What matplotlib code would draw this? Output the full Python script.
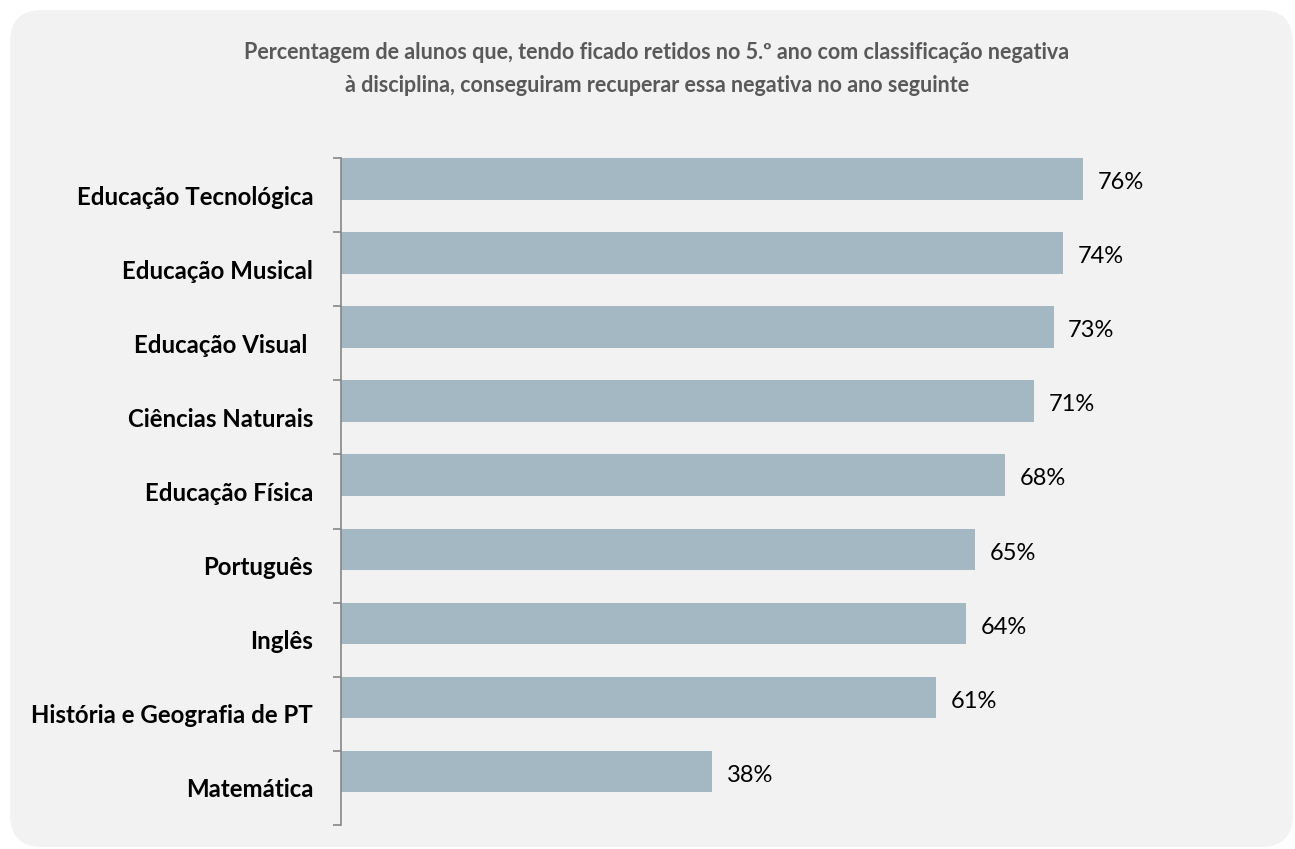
import matplotlib.pyplot as plt
from matplotlib.patches import FancyBboxPatch

categorias = ['Educação Tecnológica', 'Educação Musical', 'Educação Visual ',
              'Ciências Naturais', 'Educação Física', 'Português', 'Inglês',
              'História e Geografia de PT', 'Matemática']
valores = [76, 74, 73, 71, 68, 65, 64, 61, 38]

titulo = ('Percentagem de alunos que, tendo ficado retidos no 5.º ano com classificação negativa\n'
          'à disciplina, conseguiram recuperar essa negativa no ano seguinte')

plt.rcParams['font.family'] = ['Lato', 'DejaVu Sans']

W, H = 1295, 849
fig = plt.figure(figsize=(W / 100, H / 100), dpi=100)
fig.patch.set_facecolor('white')

# fundo cinzento com cantos arredondados
fundo = FancyBboxPatch((10 / W, 2 / H), (W - 12) / W, (H - 12) / H,
                       boxstyle='round,pad=0,rounding_size=0.025',
                       transform=fig.transFigure, facecolor='#f2f2f2',
                       edgecolor='none', mutation_aspect=W / H, zorder=-10)
fig.patches.append(fundo)

esq, dir_, topo, base = 341, 1240, 158, 825
ax = fig.add_axes([esq / W, 1 - base / H, (dir_ - esq) / W, (base - topo) / H])
ax.set_facecolor('none')

n = len(categorias)
y = list(range(n))
altura = 0.56
ax.barh([i - 0.5 for i in y], valores, height=altura, align='edge',
        color='#a3b8c3', edgecolor='none')

for i, v in enumerate(valores):
    ax.text(v + 1.5, i - 0.5 + altura / 2 + 0.05, f'{v}%', va='center', ha='left',
            fontsize=17, color='#000000')

ax.set_xlim(0, 92.1)
ax.set_ylim(n - 0.5, -0.5)

ax.set_yticks(y)
ax.set_yticklabels(categorias, fontsize=17.3, fontweight='bold')
ax.tick_params(axis='y', which='major', length=0, pad=20)
ax.set_yticks([i - 0.5 for i in range(n + 1)], minor=True)
ax.tick_params(axis='y', which='minor', length=6, color='#868686', width=1.2)
ax.set_xticks([])

for s in ['top', 'right', 'bottom']:
    ax.spines[s].set_visible(False)
ax.spines['left'].set_color('#868686')
ax.spines['left'].set_linewidth(1.2)

fig.text(657 / W, 1 - 69 / H, titulo, ha='center', va='center', fontsize=15.5,
         fontweight='bold', color='#595959', linespacing=1.65)

fig.savefig('out.png', dpi=100, facecolor=fig.get_facecolor())
